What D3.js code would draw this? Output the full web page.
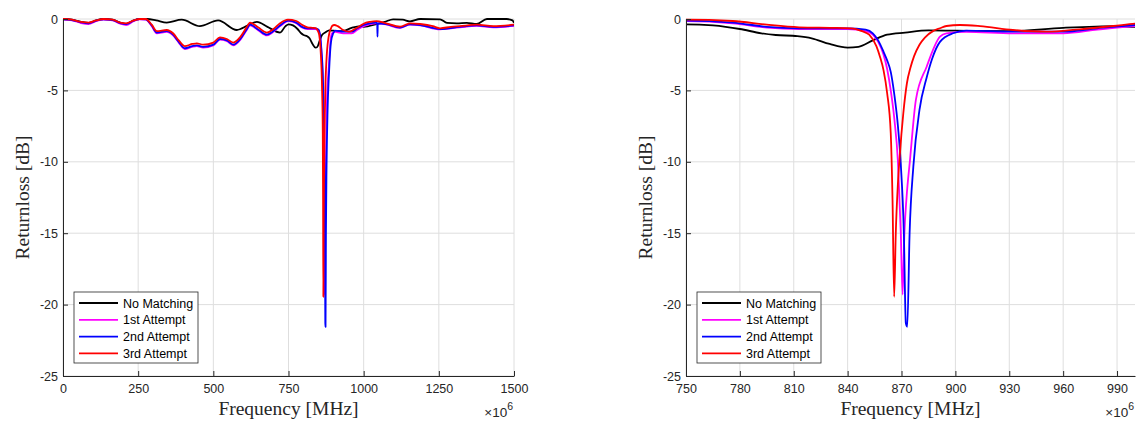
<!DOCTYPE html>
<html>
<head>
<meta charset="utf-8">
<script src="https://cdn.jsdelivr.net/npm/d3@7"></script>
<style>
    body { margin: 0; background: #fff; }
    svg { display: block; }
    .tick text { font-family: "Liberation Sans", Arial, sans-serif; font-size: 12.5px; fill: #262626; }
    .axis-label { font-family: "Liberation Serif", "Times New Roman", serif; font-size: 19.5px; fill: #262626; }
    .legend-label, .exp-label { font-family: "Liberation Sans", Arial, sans-serif; fill: #000; }
</style>
</head>
<body>
<svg id="chart" width="1137" height="421"></svg>
<script>
// series names, colours (draw order: last on top)
var seriesNames = ['No Matching', '1st Attempt', '2nd Attempt', '3rd Attempt'];
var seriesColors = ['#000000', '#ff00ff', '#0000ff', '#ff0000'];

// [frequency in MHz (x10^6 Hz), return loss in dB]
var noMatching = [[0,0],[30,-0.05],[60,-0.2],[85,-0.28],[110,-0.1],[135,0],[165,-0.05],[190,-0.25],[210,-0.35],[235,-0.1],[255,0],[280,0],
    [310,-0.1],[345,-0.25],[395,-0.05],[455,-0.5],[516,-0.1],[578,-0.77],[615,-0.45],[645,-0.2],[680,-0.55],[722,-0.95],[740,-0.5],
    [750,-0.37],[765,-0.45],[780,-0.7],[792,-1.0],[800,-1.12],[812,-1.2],[820,-1.35],[830,-1.75],[840,-2.0],[846,-1.95],[854,-1.5],
    [862,-1.1],[872,-0.95],[885,-0.8],[900,-0.82],[930,-0.85],[960,-0.62],[990,-0.5],[1000,-0.55],[1044,-0.35],[1070,-0.2],[1098,-0.02],
    [1130,-0.05],[1154,-0.17],[1188,0],[1254,-0.02],[1277,-0.27],[1310,-0.3],[1343,-0.27],[1376,-0.35],[1410,0],[1476,0],[1495,-0.1],[1500,-0.27]];

var attempt1 = [[0,-0.05],[30,-0.1],[60,-0.28],[85,-0.35],[110,-0.15],[135,-0.05],[165,-0.1],[190,-0.32],[210,-0.42],[235,-0.15],[255,-0.02],
    [275,-0.05],[295,-0.5],[312,-1.0],[345,-0.9],[366,-1.15],[385,-1.65],[405,-2.1],[430,-1.95],[445,-1.9],[466,-2.0],[500,-1.85],[522,-1.45],
    [545,-1.55],[566,-1.85],[590,-1.45],[610,-0.8],[622,-0.45],[650,-0.8],[678,-1.15],[700,-0.9],[722,-0.5],[750,-0.15],[776,-0.3],
    [795,-0.6],[813,-0.7],[840,-0.7],[850,-0.85],[854,-1.1],[857,-1.6],[860,-2.5],[862,-3.5],[864,-5.0],[866,-7.0],[868,-10.0],
    [869.6,-15],[870.6,-19.3],[871.6,-15],[872.8,-12.5],[874.7,-9.9],[878,-5.66],[884,-3.34],[891.4,-1.24],[895,-1.0],[906,-0.9],
    [932,-1.0],[960,-1.0],[979,-0.75],[1000,-0.5],[1040,-0.3],[1074,-0.38],[1121,-0.62],[1154,-0.4],[1188,-0.45],[1254,-0.72],[1320,-0.58],
    [1376,-0.48],[1431,-0.58],[1500,-0.48]];

var attempt2 = [[0,-0.02],[30,-0.07],[60,-0.23],[85,-0.3],[110,-0.12],[135,-0.02],[165,-0.07],[190,-0.28],[210,-0.36],[235,-0.12],[255,0],
    [275,-0.02],[295,-0.45],[312,-0.95],[345,-0.85],[366,-1.1],[385,-1.6],[405,-2.05],[430,-1.9],[445,-1.85],[466,-1.95],[500,-1.8],[522,-1.4],
    [545,-1.5],[566,-1.8],[590,-1.4],[610,-0.75],[622,-0.4],[650,-0.75],[678,-1.1],[700,-0.85],[722,-0.45],[750,-0.12],[776,-0.25],
    [795,-0.55],[813,-0.65],[840,-0.65],[850,-0.75],[854,-1.0],[857,-1.5],[860,-2.3],[862,-2.9],[864,-3.7],[866,-5.3],[868,-7.5],
    [869.5,-10],[871.3,-15],[872.4,-21.3],[873.2,-21.55],[874.5,-15],[876.6,-10.3],[880,-6.37],[884,-4.1],[887,-2.8],[891.4,-1.6],
    [898.7,-1.0],[906,-0.82],[932,-0.89],[960,-0.89],[979,-0.65],[1000,-0.42],[1020,-0.3],[1040,-0.25],[1045,-0.3],[1046,-1.24],[1047,-0.3],
    [1074,-0.35],[1121,-0.6],[1154,-0.38],[1188,-0.42],[1254,-0.7],[1320,-0.55],[1376,-0.45],[1431,-0.55],[1500,-0.45]];

var attempt3 = [[0,0],[30,-0.05],[60,-0.2],[85,-0.25],[110,-0.1],[135,0],[165,-0.05],[190,-0.25],[210,-0.3],[235,-0.1],[255,0],[275,0],
    [295,-0.4],[312,-0.85],[345,-0.77],[366,-1.0],[385,-1.5],[405,-1.9],[430,-1.75],[445,-1.7],[466,-1.8],[500,-1.65],[522,-1.28],
    [545,-1.4],[566,-1.65],[590,-1.25],[610,-0.6],[622,-0.25],[650,-0.6],[678,-0.95],[700,-0.7],[722,-0.3],[748,-0.05],[776,-0.14],
    [795,-0.4],[813,-0.58],[830,-0.62],[842,-0.65],[848,-0.85],[852,-1.1],[856,-1.9],[858,-2.64],[860,-3.6],[862,-5.2],[864,-8.0],
    [865,-12.7],[865.9,-19.45],[866.8,-15],[868,-11.5],[869,-9.6],[871,-6.6],[873,-4.5],[875,-3.4],[877,-2.6],[880,-1.8],[883,-1.3],
    [887.5,-0.85],[891.4,-0.65],[895,-0.49],[902.5,-0.42],[913.7,-0.5],[932,-0.77],[951,-0.89],[969,-0.72],[988,-0.49],[1000,-0.33],
    [1021,-0.2],[1043,-0.15],[1074,-0.3],[1121,-0.54],[1154,-0.3],[1188,-0.35],[1230,-0.5],[1254,-0.65],[1290,-0.55],[1320,-0.5],
    [1376,-0.4],[1431,-0.5],[1500,-0.4]];

var allSeries = [noMatching, attempt1, attempt2, attempt3];

// axes
var yDomain = [-25, 0];
var yTicks = [0, -5, -10, -15, -20, -25];
var wideDomain = [0, 1500];
var wideTicks = [0, 250, 500, 750, 1000, 1250, 1500];
var zoomDomain = [750, 1000];
var zoomTicks = [750, 780, 810, 840, 870, 900, 930, 960, 990];

var svg = d3.select('#chart');

drawPanel('left', {left: 63, right: 514, top: 19, bottom: 376}, wideDomain, wideTicks);
drawPanel('right', {left: 686, right: 1135, top: 19, bottom: 376}, zoomDomain, zoomTicks);

function drawPanel(id, box, xDomain, xTicks) {
    var x = d3.scaleLinear().domain(xDomain).range([box.left, box.right]);
    var y = d3.scaleLinear().domain(yDomain).range([box.bottom, box.top]);
    var g = svg.append('g').attr('id', 'panel-' + id);

    // grid
    g.append('g').selectAll('line.vg')
        .data(xTicks).enter().append('line')
        .attr('x1', function(d) { return x(d); })
        .attr('x2', function(d) { return x(d); })
        .attr('y1', box.top).attr('y2', box.bottom)
        .attr('stroke', '#dedede').attr('stroke-width', 1);
    g.append('g').selectAll('line.hg')
        .data(yTicks).enter().append('line')
        .attr('x1', box.left).attr('x2', box.right)
        .attr('y1', function(d) { return y(d); })
        .attr('y2', function(d) { return y(d); })
        .attr('stroke', '#dedede').attr('stroke-width', 1);

    // curves
    g.append('clipPath').attr('id', 'clip-' + id)
        .append('rect')
        .attr('x', box.left).attr('y', box.top - 2)
        .attr('width', box.right - box.left).attr('height', box.bottom - box.top + 2);

    var line = d3.line()
        .x(function(d) { return x(d[0]); })
        .y(function(d) { return y(d[1]); })
        .curve(d3.curveMonotoneX);

    g.append('g').attr('clip-path', 'url(#clip-' + id + ')')
        .selectAll('path')
        .data(allSeries).enter().append('path')
        .attr('d', line)
        .attr('fill', 'none')
        .attr('stroke', function(d, i) { return seriesColors[i]; })
        .attr('stroke-width', 1.8)
        .attr('stroke-linejoin', 'round');

    // axes
    var xAxis = d3.axisBottom(x).tickValues(xTicks)
        .tickSizeInner(-5).tickSizeOuter(0).tickPadding(8)
        .tickFormat(function(d) { return String(d); });
    var yAxis = d3.axisLeft(y).tickValues(yTicks)
        .tickSizeInner(-5).tickSizeOuter(0).tickPadding(5)
        .tickFormat(function(d) { return String(d); });

    var gx = g.append('g').attr('transform', 'translate(0,' + box.bottom + ')').call(xAxis);
    var gy = g.append('g').attr('transform', 'translate(' + box.left + ',0)').call(yAxis);
    [gx, gy].forEach(function(a) {
        a.attr('font-family', null).attr('font-size', null);
        a.select('.domain').attr('stroke', '#262626');
        a.selectAll('.tick line').attr('stroke', '#262626');
    });

    // labels
    g.append('text').attr('class', 'axis-label')
        .attr('x', (box.left + box.right) / 2).attr('y', 415)
        .attr('text-anchor', 'middle')
        .text('Frequency [MHz]');

    g.append('text').attr('class', 'axis-label')
        .attr('transform', 'translate(' + (box.left - 34) + ',' + ((box.top + box.bottom) / 2) + ') rotate(-90)')
        .attr('text-anchor', 'middle')
        .text('Returnloss [dB]');

    var exp = g.append('text').attr('class', 'exp-label')
        .attr('x', box.right - 1).attr('y', 417)
        .attr('text-anchor', 'end')
        .style('font-size', '13.5px')
        .style('fill', '#262626');
    exp.append('tspan').text('\u00d710');
    exp.append('tspan').attr('dy', -7).style('font-size', '10.5px').text('6');

    // legend
    var lg = g.append('g').attr('transform', 'translate(' + (box.left + 11) + ',292)');
    lg.append('rect')
        .attr('width', 124).attr('height', 71)
        .attr('fill', '#fff').attr('stroke', '#262626').attr('stroke-width', 0.8);
    seriesNames.forEach(function(name, i) {
        var ry = 11 + i * 16.8;
        lg.append('line')
            .attr('x1', 5).attr('x2', 44)
            .attr('y1', ry).attr('y2', ry)
            .attr('stroke', seriesColors[i]).attr('stroke-width', 1.8);
        lg.append('text').attr('class', 'legend-label')
            .attr('x', 49).attr('y', ry + 4.5)
            .style('font-size', '12.5px')
            .text(name);
    });
}
</script>
</body>
</html>
